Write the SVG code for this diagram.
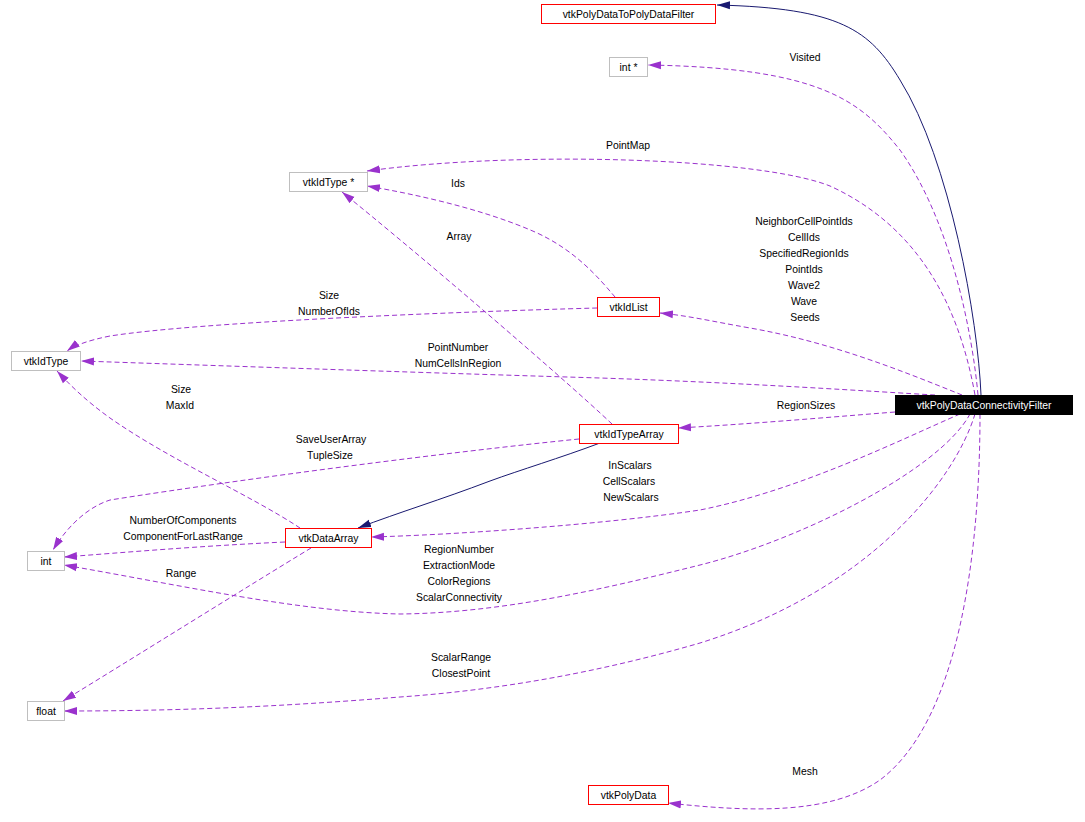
<svg xmlns="http://www.w3.org/2000/svg" width="1085" height="822" viewBox="0 0 1085 822">
<style>
text{font-family:"Liberation Sans",Arial,sans-serif;font-size:10.4px;fill:#000;text-anchor:middle}
.cls rect{fill:#fff;stroke:#ff0000;stroke-width:1}
.typ rect{fill:#fff;stroke:#bfbfbf;stroke-width:1}
.main rect{fill:#000;stroke:#000}
.main text{fill:#fff}
.use{fill:none;stroke:#9a32cd;stroke-width:1;stroke-dasharray:5,3;marker-end:url(#pa)}
.inh{fill:none;stroke:#191970;stroke-width:1;marker-end:url(#na)}
</style>
<defs>
<marker id="pa" markerUnits="userSpaceOnUse" markerWidth="14" markerHeight="10" refX="13" refY="4" orient="auto" viewBox="0 0 14 8">
<path d="M0,0 L13,4 L0,8 z" fill="#9a32cd"/>
</marker>
<marker id="na" markerUnits="userSpaceOnUse" markerWidth="14" markerHeight="10" refX="13" refY="4" orient="auto" viewBox="0 0 14 8">
<path d="M0,0 L13,4 L0,8 z" fill="#191970"/>
</marker>
</defs>
<rect width="1085" height="822" fill="#fff"/>
<g id="connectors">
<path class="inh" d="M981,395 C978,320 950,160 900,80 C870,30 840,8 717,5"/>
<path class="use" d="M978,395 C972,330 950,220 900,150 C860,100 820,68 648,65"/>
<path class="use" d="M975,395 C958,300 915,225 830,186 C760,158 520,150 367,171"/>
<path class="use" d="M615,297 C598,277 575,250 535,232 C485,210 420,195 367,186"/>
<path class="use" d="M612,424 C560,375 420,255 342,192"/>
<path class="use" d="M597,308 C450,312 200,322 110,336 C90,340 75,345 67,351"/>
<path class="use" d="M962,395 C900,370 830,342 750,328 C710,321 690,316 660,313"/>
<path class="use" d="M935,395 C880,392 750,383 600,378 C400,372 200,365 81,361"/>
<path class="use" d="M895,412 C820,418 750,424 678,428"/>
<path class="use" d="M579,439 C450,452 250,478 110,500 C85,508 65,530 53,550"/>
<path class="inh" d="M600,443 C560,458 520,470 490,481 C440,500 400,512 358,528"/>
<path class="use" d="M960,414 C900,440 800,490 700,510 C600,525 450,535 371,537"/>
<path class="use" d="M970,414 C940,470 800,540 700,565 C600,590 500,613 400,614 C300,612 180,585 64,565"/>
<path class="use" d="M285,542 C200,546 130,552 64,557"/>
<path class="use" d="M300,528 C250,495 170,460 110,418 C85,400 70,385 57,371"/>
<path class="use" d="M311,548 C250,585 130,660 63,701"/>
<path class="use" d="M975,414 C955,480 870,590 700,643 C600,672 500,690 400,697 C300,705 200,711 64,711"/>
<path class="use" d="M980,414 C980,550 960,720 880,780 C830,815 750,812 668,803"/>
<text x="805" y="61">Visited</text>
<text x="628" y="149">PointMap</text>
<text x="458" y="187">Ids</text>
<text x="459" y="240">Array</text>
<text x="329" y="299">Size</text>
<text x="329" y="315">NumberOfIds</text>
<text x="804" y="225">NeighborCellPointIds</text>
<text x="804" y="241">CellIds</text>
<text x="804" y="257">SpecifiedRegionIds</text>
<text x="804" y="273">PointIds</text>
<text x="804" y="289">Wave2</text>
<text x="804" y="305">Wave</text>
<text x="805" y="321">Seeds</text>
<text x="458" y="351">PointNumber</text>
<text x="458" y="367">NumCellsInRegion</text>
<text x="806" y="409">RegionSizes</text>
<text x="181" y="393">Size</text>
<text x="180" y="409">MaxId</text>
<text x="331" y="443">SaveUserArray</text>
<text x="330" y="459">TupleSize</text>
<text x="630" y="469">InScalars</text>
<text x="629" y="485">CellScalars</text>
<text x="631" y="501">NewScalars</text>
<text x="183" y="524">NumberOfComponents</text>
<text x="183" y="540">ComponentForLastRange</text>
<text x="459" y="553">RegionNumber</text>
<text x="459" y="569">ExtractionMode</text>
<text x="459" y="585">ColorRegions</text>
<text x="459" y="601">ScalarConnectivity</text>
<text x="181" y="577">Range</text>
<text x="461" y="661">ScalarRange</text>
<text x="461" y="677">ClosestPoint</text>
<text x="805" y="775">Mesh</text>
</g>
<g id="vtkPolyDataConnectivityFilter" class="main"><rect x="895.5" y="395.5" width="177" height="19"/><text x="984" y="409">vtkPolyDataConnectivityFilter</text></g>
<g id="vtkPolyDataToPolyDataFilter" class="cls"><rect x="541.5" y="4.5" width="174" height="19"/><text x="628.5" y="18">vtkPolyDataToPolyDataFilter</text></g>
<g id="int_ptr" class="typ"><rect x="609.5" y="57.5" width="38" height="19"/><text x="628.5" y="71">int *</text></g>
<g id="vtkIdType_ptr" class="typ"><rect x="289.5" y="172.5" width="78" height="19"/><text x="328.5" y="186">vtkIdType *</text></g>
<g id="vtkIdList" class="cls"><rect x="597.5" y="297.5" width="62" height="19"/><text x="628.5" y="311">vtkIdList</text></g>
<g id="vtkIdType" class="typ"><rect x="11.5" y="351.5" width="69" height="19"/><text x="46" y="365">vtkIdType</text></g>
<g id="vtkIdTypeArray" class="cls"><rect x="579.5" y="424.5" width="99" height="19"/><text x="629" y="438">vtkIdTypeArray</text></g>
<g id="vtkDataArray" class="cls"><rect x="285.5" y="528.5" width="86" height="19"/><text x="328.5" y="542">vtkDataArray</text></g>
<g id="int" class="typ"><rect x="27.5" y="551.5" width="37" height="19"/><text x="46" y="565">int</text></g>
<g id="float" class="typ"><rect x="27.5" y="701.5" width="37" height="19"/><text x="46" y="715">float</text></g>
<g id="vtkPolyData" class="cls"><rect x="588.5" y="785.5" width="80" height="19"/><text x="628.5" y="799">vtkPolyData</text></g>
</svg>
